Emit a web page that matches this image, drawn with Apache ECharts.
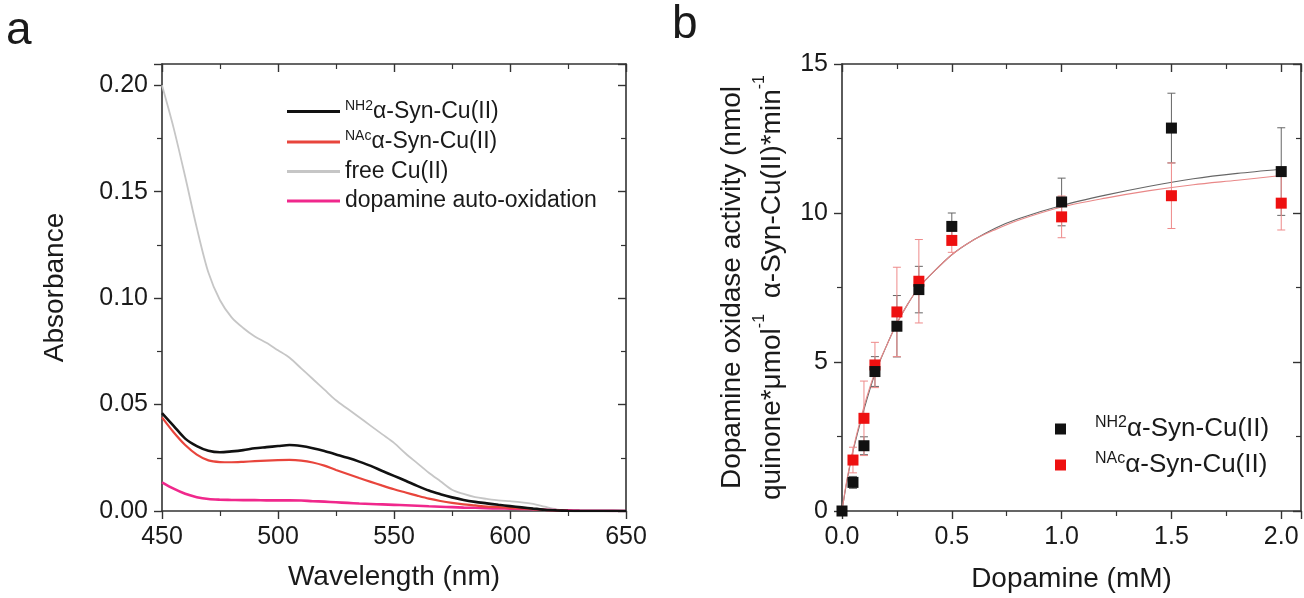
<!DOCTYPE html>
<html>
<head>
<meta charset="utf-8">
<script src="https://cdn.jsdelivr.net/npm/echarts@6/dist/echarts.min.js"></script>
<style>
  html, body { margin: 0; padding: 0; background: #fff; }
  #chart { width: 1304px; height: 598px; }
</style>
</head>
<body>
<div id="chart"></div>
<script>
// panel a: absorbance spectra
var wavelengths = [450, 455, 460, 465, 470, 475, 480, 485, 490, 495, 500, 505, 510, 515, 520, 525, 530, 535, 540, 545,
  550, 555, 560, 565, 570, 575, 580, 585, 590, 595, 600, 605, 610, 615, 620, 625, 630, 640, 650];
var absNH2 = [0.046, 0.040, 0.034, 0.0305, 0.0283, 0.0276, 0.028, 0.0286, 0.0295, 0.030, 0.0305, 0.031, 0.0305, 0.0295, 0.0282,
  0.0266, 0.025, 0.0232, 0.0212, 0.0188, 0.0165, 0.0142, 0.0118, 0.0096, 0.0079, 0.0064, 0.0052, 0.0043, 0.0036, 0.0029,
  0.0023, 0.0017, 0.0011, 0.0006, 0.0003, 0.0001, 0, 0, 0];
var absNAc = [0.044, 0.037, 0.031, 0.0265, 0.0238, 0.0230, 0.0229, 0.0231, 0.0234, 0.0237, 0.0239, 0.024, 0.0237, 0.0228, 0.0213,
  0.0193, 0.0174, 0.0155, 0.0137, 0.0119, 0.0102, 0.0087, 0.0072, 0.0058, 0.0047, 0.0038, 0.0031, 0.0026, 0.0021, 0.0018,
  0.0015, 0.0012, 0.0009, 0.0005, 0.0003, 0.0001, 0, 0, 0];
var absFreeCu = [0.200, 0.180, 0.157, 0.133, 0.112, 0.099, 0.091, 0.086, 0.082, 0.079, 0.0755, 0.072, 0.067, 0.062, 0.057,
  0.052, 0.048, 0.044, 0.040, 0.036, 0.032, 0.027, 0.0225, 0.018, 0.014, 0.010, 0.008, 0.0065, 0.0057, 0.005,
  0.0046, 0.0041, 0.0033, 0.002, 0.0008, 0.0002, 0, 0, 0];
var absDopamine = [0.0135, 0.0105, 0.0081, 0.0065, 0.0056, 0.0053, 0.0052, 0.0051, 0.0051, 0.005, 0.005, 0.005, 0.0049, 0.0046,
  0.0044, 0.0041, 0.0038, 0.0035, 0.0033, 0.0031, 0.0029, 0.0027, 0.0025, 0.0022, 0.002, 0.0018, 0.0016, 0.0015, 0.0013,
  0.0012, 0.0011, 0.001, 0.0008, 0.0006, 0.0004, 0.0003, 0.0002, 0.0001, 0];

// panel b: oxidase activity vs dopamine
var dopamineConc = [0, 0.05, 0.1, 0.15, 0.25, 0.35, 0.5, 1.0, 1.5, 2.0];
var activityNH2 = [0, 0.96, 2.19, 4.68, 6.2, 7.43, 9.55, 10.37, 12.85, 11.39];
var errorNH2 = [0, 0.2, 0.3, 0.5, 1.03, 0.78, 0.45, 0.8, 1.17, 1.47];
var activityNAc = [null, 1.71, 3.11, 4.9, 6.68, 7.71, 9.08, 9.87, 10.58, 10.33];
var errorNAc = [0, 0.43, 1.25, 0.76, 1.5, 1.4, 0.4, 0.7, 1.1, 0.9];

var fitConc = [0, 0.02, 0.05, 0.1, 0.15, 0.2, 0.25, 0.3, 0.35, 0.4, 0.5, 0.6, 0.7, 0.8, 1.0, 1.2, 1.4, 1.6, 1.8, 2.0];
var fitNH2 = [0, 0.9, 2.0, 3.4, 4.6, 5.5, 6.3, 6.95, 7.5, 7.9, 8.6, 9.1, 9.5, 9.8, 10.25, 10.6, 10.9, 11.15, 11.33, 11.47];
var fitNAc = [0, 0.95, 2.05, 3.5, 4.65, 5.5, 6.3, 6.95, 7.5, 7.9, 8.6, 9.1, 9.45, 9.75, 10.2, 10.5, 10.75, 10.95, 11.1, 11.26];

var nameNH2 = 'NH2α-Syn-Cu(II)';
var nameNAc = 'NAcα-Syn-Cu(II)';
var nameFree = 'free Cu(II)';
var nameDopa = 'dopamine auto-oxidation';

var FONT = 'Liberation Sans, Arial, sans-serif';
var INK = '#1a1a1a';

function pairs(xs, ys) {
  var out = [];
  for (var i = 0; i < xs.length; i++) {
    if (ys[i] !== null) out.push([xs[i], ys[i]]);
  }
  return out;
}
function errRows(xs, ys, es) {
  var out = [];
  for (var i = 0; i < xs.length; i++) {
    if (ys[i] !== null && es[i] > 0) out.push([xs[i], ys[i], es[i]]);
  }
  return out;
}
function onStep(step, digits) {
  return function (v) {
    var k = v / step;
    if (Math.abs(k - Math.round(k)) > 1e-6) return '';
    return v.toFixed(digits);
  };
}
function legendText(name) {
  var m = name.match(/^(NH2|NAc)(.*)$/);
  if (m) return '{sup|' + m[1] + '}{t|' + m[2] + '}';
  return '{t|' + name + '}';
}

// axis builder: main axes have labels and outward ticks, mirror axes close the frame
function axis(opts) {
  var mirror = !!opts.mirror;
  return {
    type: 'value',
    gridIndex: opts.grid,
    position: opts.position,
    min: opts.min, max: opts.max, interval: opts.interval,
    name: mirror ? '' : opts.name,
    nameLocation: 'middle',
    nameGap: opts.nameGap,
    nameTextStyle: opts.nameTextStyle || { fontFamily: FONT, fontSize: 28, color: INK },
    splitLine: { show: false },
    axisLine: { show: true, onZero: false, lineStyle: { color: '#333', width: 1.6 } },
    axisTick: { show: true, inside: mirror, length: 8, lineStyle: { color: '#333', width: 1.4 } },
    minorTick: { show: true, splitNumber: 2, length: 5, lineStyle: { color: '#333', width: 1.2 } },
    axisLabel: {
      show: !mirror, margin: 14, fontFamily: FONT, fontSize: 25, color: INK,
      formatter: opts.formatter
    }
  };
}

function errorBar(color) {
  return function (params, api) {
    var x = api.value(0), y = api.value(1), e = api.value(2);
    var top = api.coord([x, y + e]);
    var bot = api.coord([x, y - e]);
    var w = 4;
    var st = { stroke: color, lineWidth: 1 };
    return {
      type: 'group',
      children: [
        { type: 'line', shape: { x1: top[0], y1: top[1], x2: bot[0], y2: bot[1] }, style: st },
        { type: 'line', shape: { x1: top[0] - w, y1: top[1], x2: top[0] + w, y2: top[1] }, style: st },
        { type: 'line', shape: { x1: bot[0] - w, y1: bot[1], x2: bot[0] + w, y2: bot[1] }, style: st }
      ]
    };
  };
}

var chart = echarts.init(document.getElementById('chart'));

var option = {
  backgroundColor: '#fff',
  animation: false,
  grid: [
    { left: 162, top: 64, width: 464, height: 447 },
    { left: 842, top: 64, width: 461, height: 448 }
  ],
  xAxis: [
    axis({ grid: 0, position: 'bottom', min: 450, max: 650, interval: 50, name: 'Wavelength (nm)', nameGap: 52, formatter: onStep(50, 0) }),
    axis({ grid: 0, position: 'top', min: 450, max: 650, interval: 50, mirror: true }),
    axis({ grid: 1, position: 'bottom', min: 0, max: 2.09, interval: 0.5, name: 'Dopamine (mM)', nameGap: 54, formatter: onStep(0.5, 1) }),
    axis({ grid: 1, position: 'top', min: 0, max: 2.09, interval: 0.5, mirror: true })
  ],
  yAxis: [
    axis({ grid: 0, position: 'left', min: 0, max: 0.21, interval: 0.05, name: 'Absorbance', nameGap: 93, formatter: onStep(0.05, 2) }),
    axis({ grid: 0, position: 'right', min: 0, max: 0.21, interval: 0.05, mirror: true }),
    axis({
      grid: 1, position: 'left', min: 0, max: 15, interval: 5, nameGap: 50, formatter: onStep(5, 0),
      name: '{a|Dopamine oxidase activity (nmol}\n{b|quinone*μmol}{s|-1}{b|  α-Syn-Cu(II)*min}{s|-1}',
      nameTextStyle: {
        fontFamily: FONT, color: INK,
        rich: {
          a: { fontFamily: FONT, fontSize: 28, lineHeight: 40, color: INK },
          b: { fontFamily: FONT, fontSize: 28, lineHeight: 40, color: INK },
          s: { fontFamily: FONT, fontSize: 16, lineHeight: 22, verticalAlign: 'top', color: INK }
        }
      }
    }),
    axis({ grid: 1, position: 'right', min: 0, max: 15, interval: 5, mirror: true })
  ],
  legend: [
    {
      data: [nameNH2, nameNAc, nameFree, nameDopa],
      orient: 'vertical', left: 287, top: 99, padding: 0,
      icon: 'rect', itemWidth: 53, itemHeight: 3, itemGap: 6.5,
      formatter: legendText,
      textStyle: {
        fontFamily: FONT, color: INK,
        rich: {
          t: { fontFamily: FONT, fontSize: 23, lineHeight: 25, color: INK },
          sup: { fontFamily: FONT, fontSize: 14, lineHeight: 14, verticalAlign: 'top', color: INK }
        }
      }
    },
    {
      data: [nameNH2 + ' ', nameNAc + ' '],
      orient: 'vertical', left: 1055, top: 415, padding: 0,
      itemWidth: 11, itemHeight: 11, itemGap: 9,
      formatter: function (name) { return '{gap|}' + legendText(name.trim()); },
      textStyle: {
        fontFamily: FONT, color: INK,
        rich: {
          gap: { width: 24 },
          t: { fontFamily: FONT, fontSize: 26, lineHeight: 28, color: INK },
          sup: { fontFamily: FONT, fontSize: 16, lineHeight: 16, verticalAlign: 'top', color: INK }
        }
      }
    }
  ],
  graphic: [
    { type: 'text', left: 6, top: 8, style: { text: 'a', fontFamily: FONT, fontSize: 46, fill: INK } },
    { type: 'text', left: 672, top: 2, style: { text: 'b', fontFamily: FONT, fontSize: 46, fill: INK } }
  ],
  series: [
    {
      name: nameFree, type: 'line', xAxisIndex: 0, yAxisIndex: 0, z: 2,
      data: pairs(wavelengths, absFreeCu), symbol: 'none', smooth: 0.3,
      itemStyle: { color: '#c6c6c6' }, lineStyle: { color: '#c6c6c6', width: 1.8 }
    },
    {
      name: nameDopa, type: 'line', xAxisIndex: 0, yAxisIndex: 0, z: 3,
      data: pairs(wavelengths, absDopamine), symbol: 'none', smooth: 0.3,
      itemStyle: { color: '#f0288c' }, lineStyle: { color: '#f0288c', width: 2.6 }
    },
    {
      name: nameNAc, type: 'line', xAxisIndex: 0, yAxisIndex: 0, z: 4,
      data: pairs(wavelengths, absNAc), symbol: 'none', smooth: 0.3,
      itemStyle: { color: '#e8453c' }, lineStyle: { color: '#e8453c', width: 2.2 }
    },
    {
      name: nameNH2, type: 'line', xAxisIndex: 0, yAxisIndex: 0, z: 5,
      data: pairs(wavelengths, absNH2), symbol: 'none', smooth: 0.3,
      itemStyle: { color: '#111' }, lineStyle: { color: '#111', width: 2.6 }
    },
    // fits
    {
      type: 'line', xAxisIndex: 2, yAxisIndex: 2, z: 2, silent: true,
      data: pairs(fitConc, fitNH2), symbol: 'none', smooth: 0.3,
      lineStyle: { color: '#666', width: 1.1 }
    },
    {
      type: 'line', xAxisIndex: 2, yAxisIndex: 2, z: 2, silent: true,
      data: pairs(fitConc, fitNAc), symbol: 'none', smooth: 0.3,
      lineStyle: { color: '#e98888', width: 1.1 }
    },
    // error bars
    {
      type: 'custom', xAxisIndex: 2, yAxisIndex: 2, z: 3, silent: true,
      data: errRows(dopamineConc, activityNH2, errorNH2),
      renderItem: errorBar('#666')
    },
    {
      type: 'custom', xAxisIndex: 2, yAxisIndex: 2, z: 3, silent: true,
      data: errRows(dopamineConc, activityNAc, errorNAc),
      renderItem: errorBar('#ee8a8a')
    },
    {
      name: nameNAc + ' ', type: 'scatter', xAxisIndex: 2, yAxisIndex: 2, z: 5,
      data: pairs(dopamineConc, activityNAc), symbol: 'rect', symbolSize: 11,
      itemStyle: { color: '#ee1010', opacity: 1 }
    },
    {
      name: nameNH2 + ' ', type: 'scatter', xAxisIndex: 2, yAxisIndex: 2, z: 6,
      data: pairs(dopamineConc, activityNH2), symbol: 'rect', symbolSize: 11,
      itemStyle: { color: '#111', opacity: 1 }
    }
  ]
};

chart.setOption(option);
</script>
</body>
</html>
